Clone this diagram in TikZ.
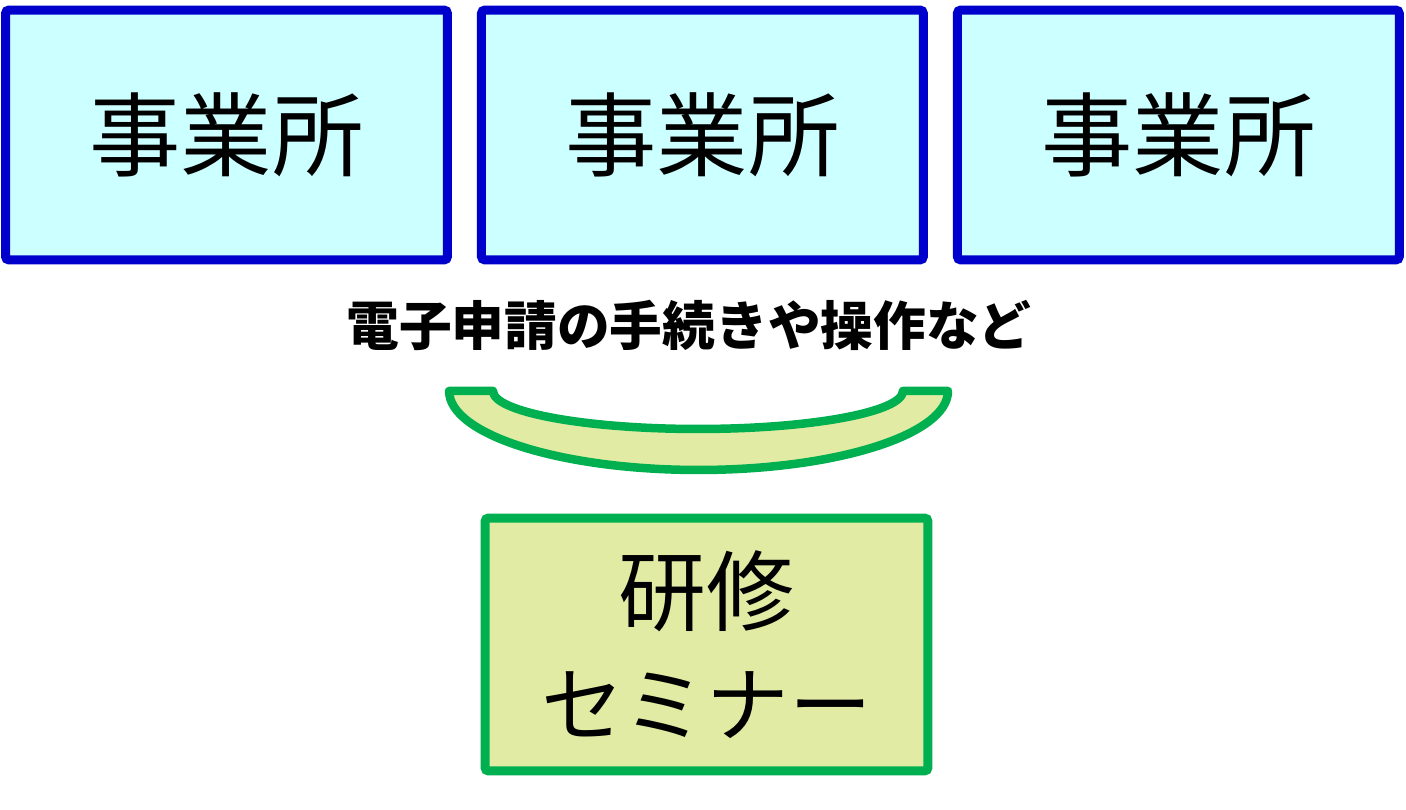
\documentclass[tikz,border=0pt]{standalone}
\usepackage{fontspec}
\newfontfamily\jpfont{Noto Sans CJK JP}
\usetikzlibrary{positioning}
\definecolor{officeblue}{RGB}{0,0,204}
\definecolor{officecyan}{RGB}{204,255,255}
\definecolor{seminargreen}{RGB}{0,176,80}
\definecolor{seminarfill}{RGB}{226,235,164}

\begin{document}
\begin{tikzpicture}[x=0.02cm,y=0.02cm,
	office/.style={draw=officeblue, fill=officecyan, line width=0.18cm, rounded corners=2pt,
		minimum width=8.84cm, minimum height=5cm, inner sep=0pt,
		font=\jpfont\fontsize{52}{60}\selectfont},
	seminar/.style={draw=seminargreen, fill=seminarfill, line width=0.18cm, rounded corners=2pt,
		minimum width=8.86cm, minimum height=5.06cm, inner sep=0pt, align=center,
		font=\jpfont\fontsize{50}{63}\selectfont},
	bowl/.style={draw=seminargreen, fill=seminarfill, line width=0.17cm, line join=round},
	topic/.style={font=\jpfont\bfseries\fontsize{30}{36}\selectfont}]
	\useasboundingbox (0,0) rectangle (1406,810);
	\node[office] (O1) at (226.5,675) {事業所};
	\node[office, right = 0.5cm of O1] (O2) {事業所};
	\node[office, right = 0.5cm of O2] (O3) {事業所};
	\node[topic] (T) at (689,485) {電子申請の手続きや操作など};
	\node[seminar] (S) at (706.5,165.5) {研修\\{\fontsize{47}{63}\selectfont セミナー}};
	% bowl between the label and the seminar box
	\coordinate (BL) at (449,419);
	\coordinate (BIL) at (493,419);
	\coordinate (BR) at (948,419);
	\draw[bowl] (BL) -- (BIL) arc[start angle=180, end angle=360, x radius=4.1cm, y radius=0.76cm]
		-- (BR) arc[start angle=0, end angle=-180, x radius=4.99cm, y radius=1.58cm] -- cycle;
\end{tikzpicture}
\end{document}
